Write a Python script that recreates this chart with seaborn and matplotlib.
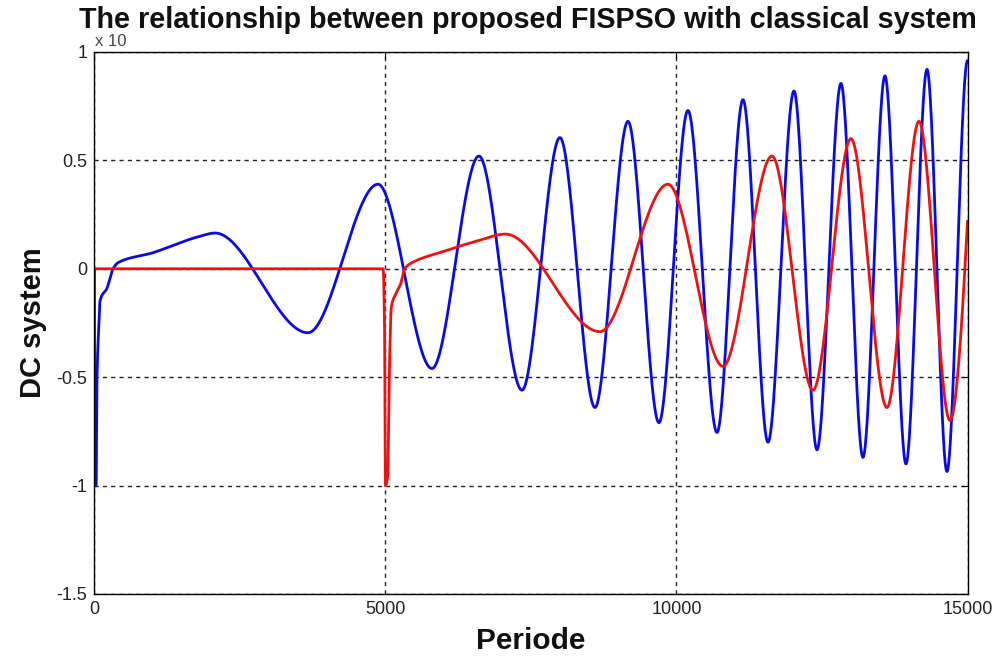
import numpy as np
import pandas as pd
import matplotlib
matplotlib.use("Agg")
import matplotlib.pyplot as plt
import seaborn as sns

# ---- data: knots (position, value) ----
blue_x = [0, 5, 30, 45, 79, 96, 216, 320, 405, 993, 1814, 2072,
          3669, 4872, 5799, 6607, 7346, 7998, 8600, 9167, 9699, 10197,
          10696, 11143, 11572, 12019, 12414, 12826, 13204, 13582, 13943,
          14304, 14647, 15000]
blue_y = [0.0, -1.0, -1.0, -0.5, -0.25, -0.15, -0.09, 0.0, 0.028, 0.073, 0.15, 0.165,
          -0.295, 0.39, -0.46, 0.52, -0.56, 0.605, -0.64, 0.68, -0.71, 0.73,
          -0.755, 0.78, -0.80, 0.82, -0.835, 0.855, -0.87, 0.89, -0.90,
          0.92, -0.935, 0.96]

red_x = [0, 4960, 4985, 5000, 5040, 5060, 5080, 5100, 5170, 5260, 5330, 5470,
         6000, 6600, 7060, 8686, 9854, 10799, 11641, 12345, 12998, 13616,
         14166, 14699, 15000]
red_y = [0.0, 0.0, -0.27, -1.0, -0.95, -0.6, -0.33, -0.18, -0.12, -0.07, 0.0, 0.03,
         0.08, 0.13, 0.16, -0.29, 0.39, -0.45, 0.52, -0.56, 0.60, -0.64,
         0.68, -0.70, 0.22]

x_ticks = [0, 5000, 10000, 15000]
y_ticks = [-1.5, -1, -0.5, 0, 0.5, 1]
y_tick_labels = ["-1.5", "-1", "-0.5", "0", "0.5", "1"]


def pchip(xk, yk, xs, end_slopes=(None, None)):
    """Monotone piecewise-cubic Hermite curve through the knots."""
    xk = np.asarray(xk, float)
    yk = np.asarray(yk, float)
    h = np.diff(xk)
    delta = np.diff(yk) / h
    d = np.zeros_like(yk)
    for k in range(1, len(xk) - 1):
        if delta[k - 1] * delta[k] > 0:
            w1 = 2 * h[k] + h[k - 1]
            w2 = h[k] + 2 * h[k - 1]
            d[k] = (w1 + w2) / (w1 / delta[k - 1] + w2 / delta[k])

    def edge(h0, h1, d0, d1):
        s = ((2 * h0 + h1) * d0 - h0 * d1) / (h0 + h1)
        if np.sign(s) != np.sign(d0):
            s = 0.0
        elif np.sign(d0) != np.sign(d1) and abs(s) > abs(3 * d0):
            s = 3 * d0
        return s

    d[0] = edge(h[0], h[1], delta[0], delta[1]) if end_slopes[0] is None else end_slopes[0]
    d[-1] = edge(h[-1], h[-2], delta[-1], delta[-2]) if end_slopes[1] is None else end_slopes[1]

    idx = np.clip(np.searchsorted(xk, xs, side="right") - 1, 0, len(xk) - 2)
    t = (xs - xk[idx]) / h[idx]
    h00 = 2 * t**3 - 3 * t**2 + 1
    h10 = t**3 - 2 * t**2 + t
    h01 = -2 * t**3 + 3 * t**2
    h11 = t**3 - t**2
    return (h00 * yk[idx] + h10 * h[idx] * d[idx]
            + h01 * yk[idx + 1] + h11 * h[idx] * d[idx + 1])


xs = np.linspace(0, 15000, 6001)
df = pd.concat([
    pd.DataFrame({"Periode": xs, "DC system": pchip(blue_x, blue_y, xs, (0.0, 0.0)),
                  "system": "FISPSO"}),
    pd.DataFrame({"Periode": xs, "DC system": pchip(red_x, red_y, xs, (0.0, None)),
                  "system": "classical"}),
], ignore_index=True)

sns.set_theme(style="white")
plt.rcParams["font.family"] = ["Liberation Sans", "DejaVu Sans"]

fig = plt.figure(figsize=(10, 6.58), dpi=100)
ax = fig.add_axes([0.0944, 0.0973, 0.8731, 0.8237])

sns.lineplot(data=df, x="Periode", y="DC system", hue="system",
             palette={"FISPSO": "#0a0ae8", "classical": "#f01010"},
             hue_order=["FISPSO", "classical"], estimator=None, sort=False,
             linewidth=2.0, legend=False, ax=ax)

ax.set_xlim(0, 15000)
ax.set_ylim(-1.5, 1)
ax.set_xticks(x_ticks)
ax.set_xticklabels([str(v) for v in x_ticks])
ax.set_yticks(y_ticks)
ax.set_yticklabels(y_tick_labels)

ax.grid(True, color="#222222", linestyle=(0, (3.0, 3.0)), linewidth=1.0)
ax.set_axisbelow(True)
for s in ax.spines.values():
    s.set_color("black")
    s.set_linewidth(1.0)

ax.tick_params(axis="both", which="both", direction="in", length=4, width=0.8,
               top=True, right=True, labelsize=13, colors="black", pad=5)
for lab in ax.get_xticklabels() + ax.get_yticklabels():
    lab.set_color("#222222")

ax.set_xlabel("Periode", fontsize=21.5, fontweight="bold", color="#111111", va="center")
ax.xaxis.set_label_coords(0.5, -0.087)
ax.set_ylabel("DC system", fontsize=21, fontweight="bold", color="#111111", va="center")
ax.yaxis.set_label_coords(-0.07, 0.5)

# axis multiplier, tucked just under the title
ax.text(0.095, 1 - 42 / 658, "x 10", transform=fig.transFigure, fontsize=12,
        color="#444444", ha="left", va="center", zorder=1, clip_on=False)
ax.text(0.528, 1 - 20 / 658,
        "The relationship between proposed FISPSO with classical system",
        transform=fig.transFigure, fontsize=20.7, fontweight="bold",
        color="#111111", ha="center", va="center", zorder=6, clip_on=False)

fig.savefig("out.png", dpi=100, facecolor="white")
